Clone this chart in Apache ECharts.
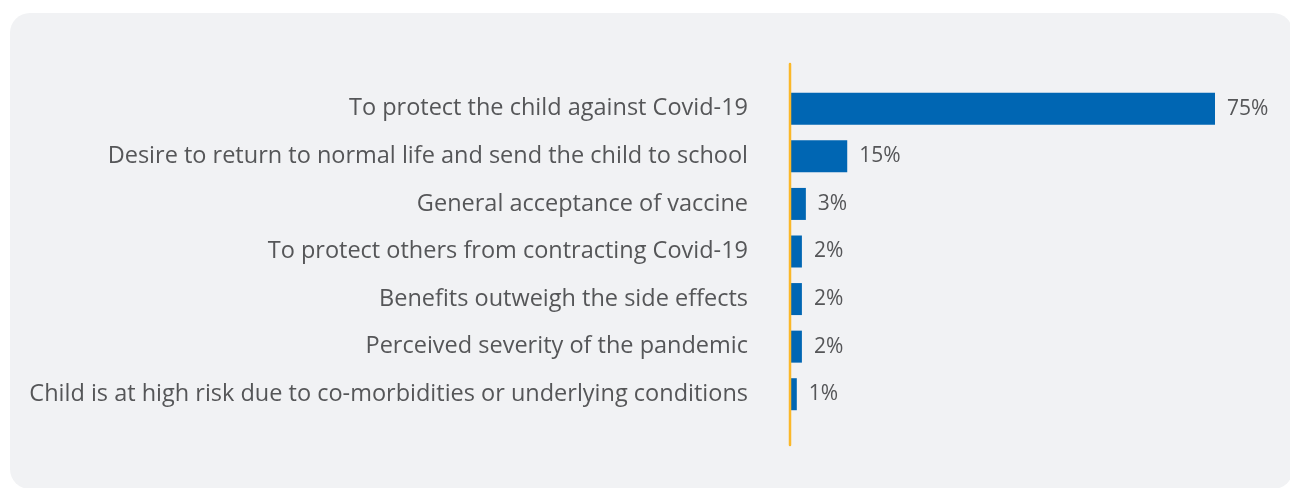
<!DOCTYPE html>
<html>
<head>
<meta charset="utf-8">
<script src="https://cdn.jsdelivr.net/npm/echarts@6/dist/echarts.min.js"></script>
<style>
html,body{margin:0;padding:0;background:#ffffff;}
#chart{width:1290px;height:488px;}
</style>
</head>
<body>
<div id="chart"></div>
<script>
const categories = [
  "To protect the child against Covid-19",
  "Desire to return to normal life and send the child to school",
  "General acceptance of vaccine",
  "To protect others from contracting Covid-19",
  "Benefits outweigh the side effects",
  "Perceived severity of the pandemic",
  "Child is at high risk due to co-morbidities or underlying conditions"
];
// bar lengths as drawn in the picture (in %)
const barValues = [75, 10.1, 2.8, 2.1, 2.1, 2.1, 1.2];
// value labels as printed
const valueLabels = ["75%", "15%", "3%", "2%", "2%", "2%", "1%"];

const chart = echarts.init(document.getElementById('chart'));
const FONT = 'Open Sans';
chart.setOption({
  animation: false,
  grid: {left: 790, right: 75, top: 85, bottom: 70},
  xAxis: {
    type: 'value', min: 0, max: 75,
    show: false
  },
  yAxis: {
    type: 'category',
    inverse: true,
    data: categories,
    axisLine: {show: false},
    axisTick: {show: false},
    axisLabel: {margin: 42, color: '#555658', fontSize: 23.5, fontFamily: FONT}
  },
  series: [{
    type: 'bar',
    data: barValues,
    barWidth: 32,
    itemStyle: {color: '#0066b3'},
    label: {
      show: true, position: 'right', distance: 12,
      color: '#555658', fontSize: 21, fontFamily: FONT,
      formatter: p => valueLabels[p.dataIndex]
    }
  }]
});

// background panel and the vertical axis line derived from the grid
const x0 = chart.convertToPixel({xAxisIndex: 0}, 0);
const firstC = chart.convertToPixel({yAxisIndex: 0}, 0);
const lastC = chart.convertToPixel({yAxisIndex: 0}, categories.length - 1);
const band = (lastC - firstC) / (categories.length - 1);
chart.setOption({
  graphic: [
    {type: 'rect', z: -10, silent: true,
     shape: {x: 10, y: 13, width: 1283, height: 476, r: 20},
     style: {fill: '#f1f2f4'}},
    {type: 'line', z: 10, silent: true,
     shape: {x1: x0, y1: firstC - band * 0.5 - 21, x2: x0, y2: lastC + band * 0.5 + 27},
     style: {stroke: '#fbb829', lineWidth: 2.5, lineCap: 'round'}}
  ]
});
</script>
</body>
</html>
